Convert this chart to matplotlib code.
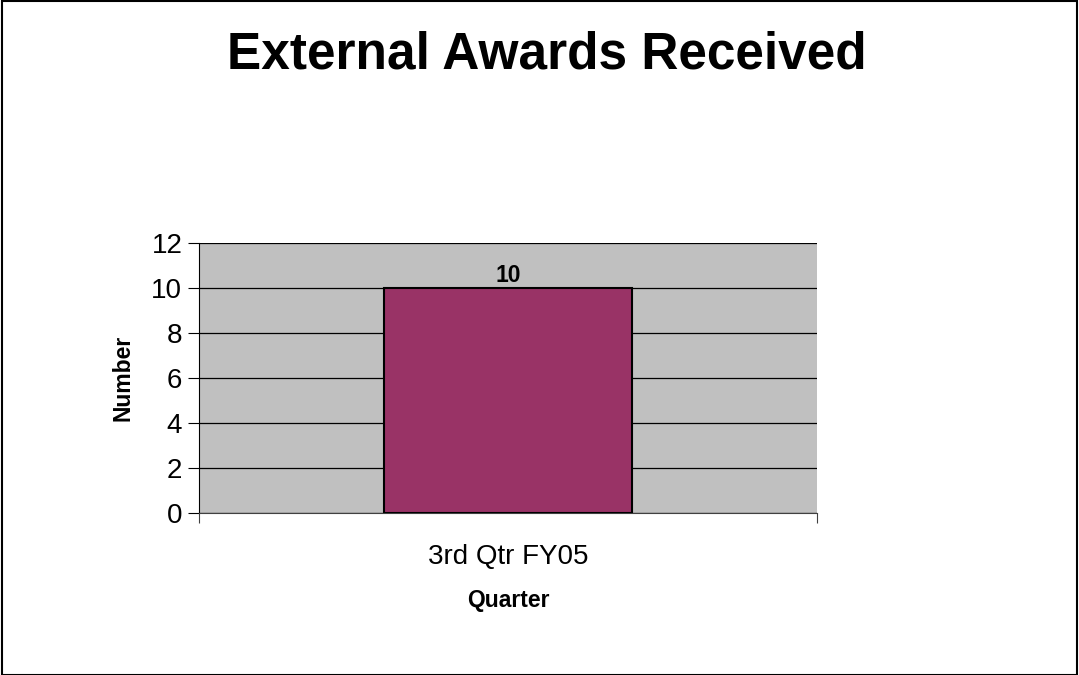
import matplotlib
matplotlib.use("Agg")
import matplotlib.pyplot as plt
from matplotlib.patches import Rectangle

plt.rcParams['font.family'] = ['Liberation Sans', 'DejaVu Sans']

# data
quarters = ['3rd Qtr FY05']
awards = [10]

fig = plt.figure(figsize=(10.79, 6.75), dpi=100)
ax = fig.add_axes([0.1844, 0.24, 0.5728, 0.40])

ax.set_facecolor('#c0c0c0')
bars = ax.bar(range(len(quarters)), awards, width=0.4, color='#993366',
              edgecolor='black', linewidth=1.5, zorder=3)
ax.set_xlim(-0.5, len(quarters) - 0.5)
ax.set_ylim(0, 12)
ax.set_yticks(range(0, 13, 2))
ax.yaxis.grid(True, color='black', linewidth=0.9, zorder=1)
ax.set_axisbelow(True)

# category boundary ticks, labels in the middle
ax.set_xticks([-0.5, len(quarters) - 0.5])
ax.set_xticklabels([])
ax.set_xticks(range(len(quarters)), minor=True)
ax.set_xticklabels(quarters, minor=True, fontsize=20)
ax.tick_params(axis='x', which='minor', length=0, pad=22)
ax.tick_params(axis='x', which='major', length=7, color='#404040')
ax.tick_params(axis='y', labelsize=20, length=8, pad=4)

for side in ['top', 'right']:
    ax.spines[side].set_visible(False)
ax.spines['left'].set_color('black')
ax.spines['bottom'].set_color('#404040')

for b, v in zip(bars, awards):
    ax.text(b.get_x() + b.get_width() / 2, v + 0.05, f'{v}', ha='center', va='bottom',
            fontsize=16.5, fontweight='bold')

ax.set_ylabel('Number', fontsize=16.5, fontweight='bold', labelpad=12)
ax.set_xlabel('Quarter', fontsize=16.5, fontweight='bold', labelpad=14)

fig.text(0.5065, 0.9185, 'External Awards Received', ha='center', va='center',
         fontsize=37, fontweight='bold')

# outer frame
fig.patches.append(Rectangle((0.002, 0.0), 0.996, 0.999, transform=fig.transFigure,
                             fill=False, edgecolor='black', linewidth=1.5))

fig.savefig('out.png', dpi=100)
